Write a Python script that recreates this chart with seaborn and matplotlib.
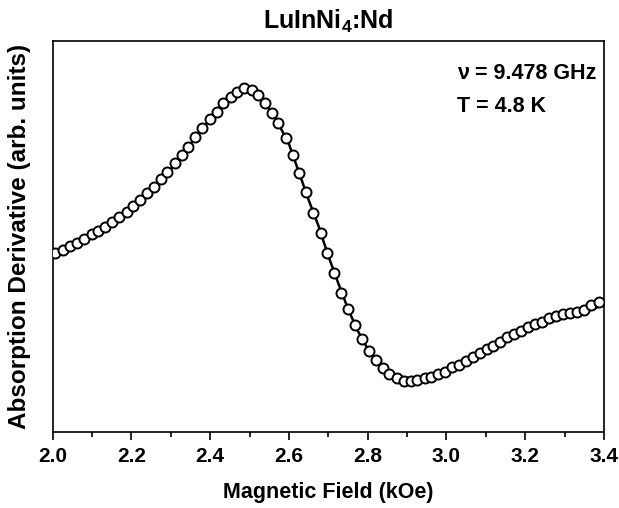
import numpy as np
import pandas as pd
import matplotlib
matplotlib.use("Agg")
import matplotlib.pyplot as plt
from matplotlib.ticker import MultipleLocator
import seaborn as sns

# ── Data ─────────────────────────────────────────────────────────────────────
field = [2.006, 2.026, 2.044, 2.062, 2.080, 2.100, 2.115, 2.133, 2.151, 2.168,
         2.189, 2.204, 2.222, 2.240, 2.257, 2.275, 2.290, 2.311, 2.328, 2.344,
         2.361, 2.379, 2.400, 2.417, 2.433, 2.453, 2.468, 2.486, 2.506, 2.522,
         2.539, 2.557, 2.572, 2.593, 2.610, 2.626, 2.643, 2.661, 2.682, 2.697,
         2.715, 2.733, 2.750, 2.768, 2.786, 2.804, 2.821, 2.839, 2.854, 2.875,
         2.892, 2.910, 2.925, 2.946, 2.961, 2.979, 2.997, 3.014, 3.032, 3.050,
         3.068, 3.086, 3.103, 3.118, 3.136, 3.154, 3.172, 3.190, 3.207, 3.225,
         3.243, 3.261, 3.278, 3.296, 3.314, 3.332, 3.349, 3.367, 3.388]
signal = [17.9, 18.2, 18.6, 18.9, 19.3, 19.8, 20.1, 20.5, 21.0, 21.5,
          22.0, 22.6, 23.2, 23.9, 24.5, 25.3, 26.0, 26.9, 27.7, 28.5,
          29.5, 30.4, 31.3, 32.0, 32.9, 33.5, 34.0, 34.4, 34.2, 33.7,
          32.9, 31.9, 30.9, 29.4, 27.7, 25.9, 24.0, 21.9, 19.9, 17.9,
          15.9, 13.9, 12.3, 10.7, 9.3, 8.1, 7.2, 6.4, 5.8, 5.4,
          5.1, 5.1, 5.2, 5.4, 5.5, 5.8, 6.0, 6.5, 6.7, 7.1,
          7.5, 7.9, 8.3, 8.6, 9.0, 9.5, 9.8, 10.1, 10.5, 10.8,
          11.0, 11.4, 11.6, 11.8, 11.9, 12.0, 12.2, 12.7, 13.0]

# fitted curve (solid line)
fit_field = [2.00, 2.05, 2.10, 2.15, 2.20, 2.25, 2.30, 2.35, 2.40, 2.425,
             2.45, 2.475, 2.49, 2.50, 2.525, 2.55, 2.575, 2.60, 2.625, 2.65,
             2.675, 2.70, 2.725, 2.75, 2.775, 2.80, 2.825, 2.85, 2.875, 2.90,
             2.925, 2.95, 2.975, 3.00, 3.05, 3.10, 3.15, 3.20, 3.25, 3.30,
             3.35, 3.40]
fit_signal = [17.6, 18.4, 19.4, 20.6, 22.1, 23.9, 26.3, 28.8, 31.3, 32.5,
              33.3, 33.9, 34.0, 33.9, 33.4, 32.3, 30.7, 28.8, 26.0, 23.2,
              20.6, 17.6, 14.9, 12.3, 10.1, 8.3, 7.0, 6.1, 5.6, 5.4,
              5.4, 5.6, 6.0, 6.4, 7.3, 8.1, 9.1, 10.0, 10.8, 11.4,
              12.0, 12.7]

tick_vals = [2.0, 2.2, 2.4, 2.6, 2.8, 3.0, 3.2, 3.4]
tick_labels = ["2.0", "2.2", "2.4", "2.6", "2.8", "3.0", "3.2", "3.4"]

data = pd.DataFrame({"field": field, "signal": signal})
fit = pd.DataFrame({"field": fit_field, "signal": fit_signal})

# ── Style ────────────────────────────────────────────────────────────────────
sns.set_style("ticks")
plt.rcParams.update({
    "font.family": ["Liberation Sans", "DejaVu Sans"],
    "font.weight": "bold",
    "text.color": "black",
    "axes.labelcolor": "black",
    "xtick.color": "black",
    "ytick.color": "black",
    "mathtext.fontset": "custom",
    "mathtext.bf": "Liberation Sans:bold",
    "mathtext.rm": "Liberation Sans:bold",
})

fig = plt.figure(figsize=(6.19, 5.08), dpi=100)
ax = fig.add_axes([0.0851, 0.1496, 0.8907, 0.7697])

sns.lineplot(data=fit, x="field", y="signal", ax=ax, color="black",
             linewidth=1.8, sort=True, estimator=None)
sns.scatterplot(data=data, x="field", y="signal", ax=ax, marker="o", s=52,
                facecolor="white", edgecolor="black", linewidth=1.4, zorder=3)

ax.set_xlim(2.0, 3.4)
ax.set_ylim(0, 39.1)
ax.xaxis.set_minor_locator(MultipleLocator(0.1))
ax.set_xticks(tick_vals)
ax.set_xticklabels(tick_labels)
ax.tick_params(axis="x", which="major", direction="out", length=6, width=1.2,
               labelsize=15, pad=5)
ax.tick_params(axis="x", which="minor", direction="out", length=3.5, width=1.2)
ax.set_yticks([])
for lab in ax.get_xticklabels():
    lab.set_fontweight("bold")

for sp in ax.spines.values():
    sp.set_linewidth(1.2)
    sp.set_color("black")

ax.set_xlabel("Magnetic Field (kOe)", fontsize=15.5, fontweight="bold", labelpad=11)
ax.set_ylabel("Absorption Derivative (arb. units)", fontsize=17.5,
              fontweight="bold")
ax.yaxis.set_label_coords(-0.04, 0.5)
ax.set_title(r"LuInNi$_\mathbf{4}$:Nd", fontsize=18, fontweight="bold", pad=9)

ax.text(0.987, 0.918, "ν = 9.478 GHz", transform=ax.transAxes, ha="right",
        va="center", fontsize=15.5, fontweight="bold")
ax.text(0.733, 0.833, "T = 4.8 K", transform=ax.transAxes, ha="left",
        va="center", fontsize=15.5, fontweight="bold")

fig.savefig("out.png", dpi=100)
plt.close(fig)
